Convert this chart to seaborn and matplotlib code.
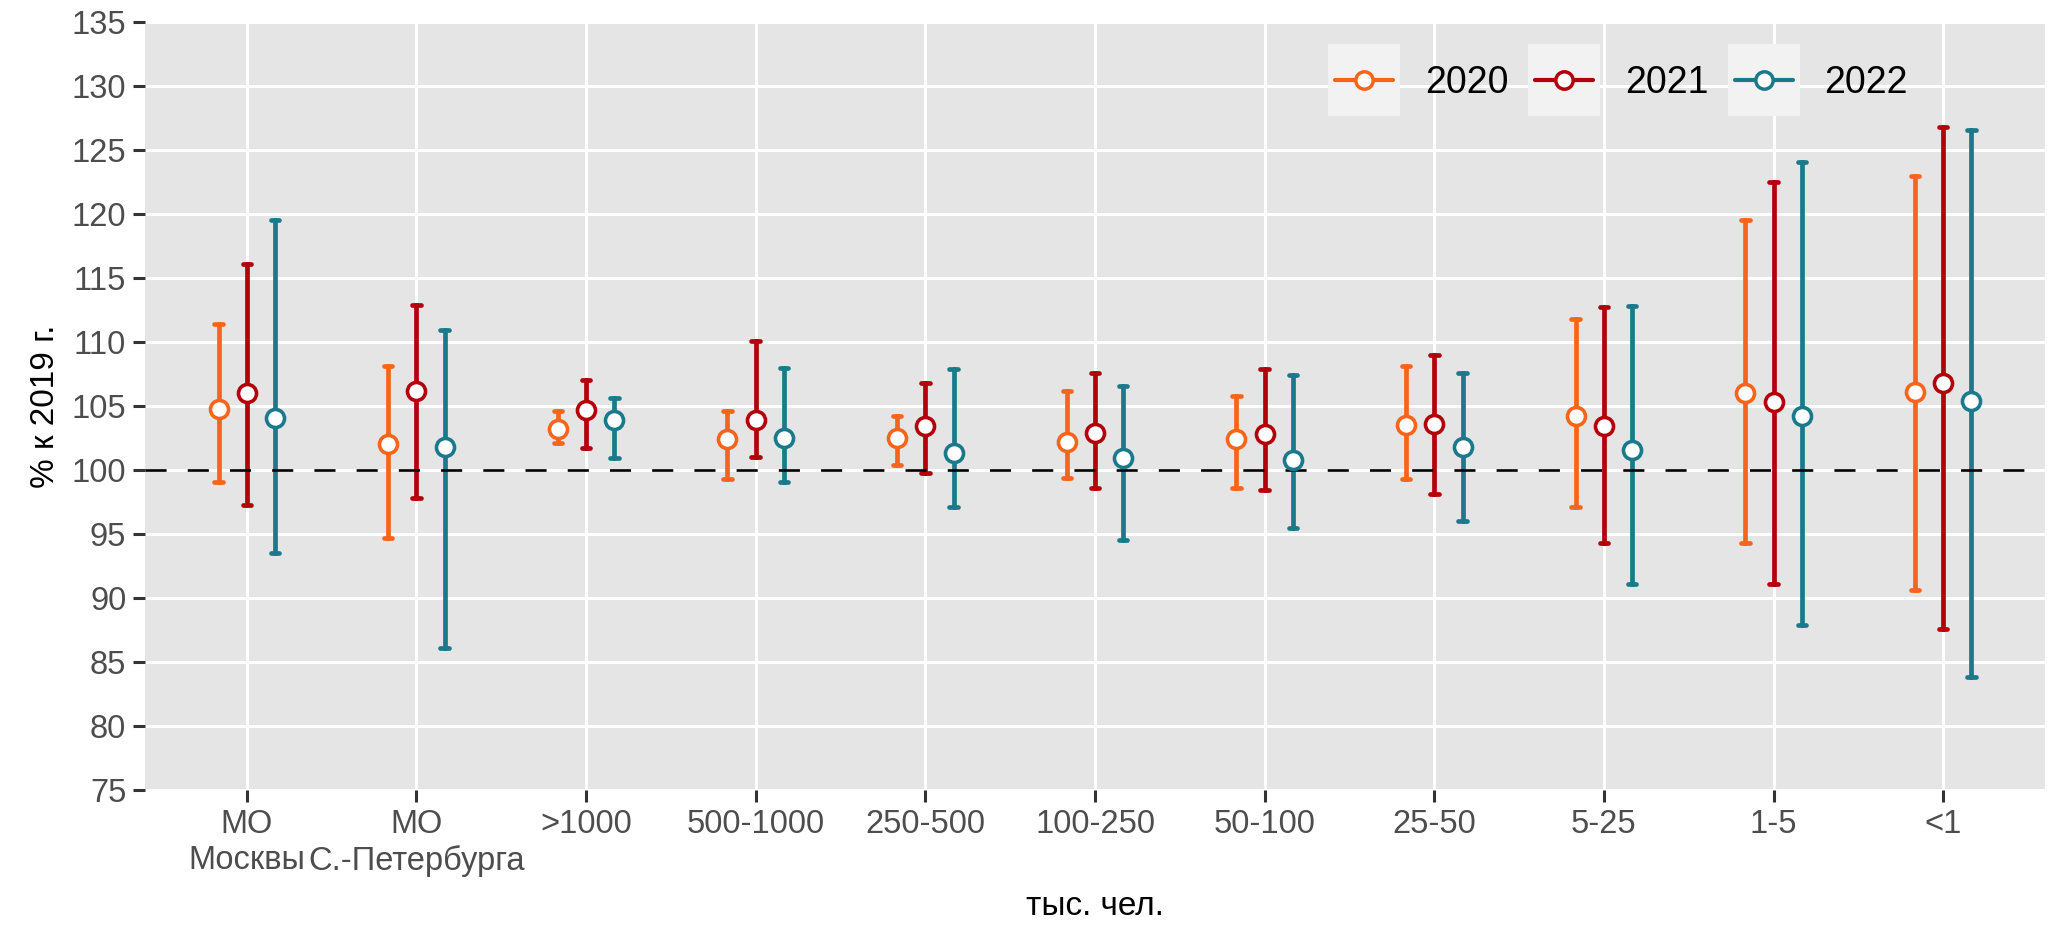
import numpy as np
import pandas as pd
import matplotlib
matplotlib.use("Agg")
import matplotlib.pyplot as plt
import seaborn as sns
from matplotlib.legend_handler import HandlerLine2D
from matplotlib.patches import Rectangle
from matplotlib.lines import Line2D

categories = ["МО\nМосквы", "МО\nС.-Петербурга", ">1000", "500-1000", "250-500",
              "100-250", "50-100", "25-50", "5-25", "1-5", "<1"]
years = ["2020", "2021", "2022"]

mid_2020 = [104.8, 102.0, 103.2, 102.4, 102.5, 102.2, 102.4, 103.5, 104.2, 106.0, 106.1]
lo_2020 = [99.1, 94.7, 102.1, 99.3, 100.4, 99.4, 98.6, 99.3, 97.1, 94.3, 90.6]
hi_2020 = [111.4, 108.1, 104.6, 104.6, 104.2, 106.2, 105.8, 108.1, 111.8, 119.5, 123.0]

mid_2021 = [106.0, 106.2, 104.7, 103.9, 103.4, 102.9, 102.8, 103.6, 103.4, 105.3, 106.8]
lo_2021 = [97.3, 97.8, 101.7, 101.0, 99.8, 98.6, 98.4, 98.1, 94.3, 91.1, 87.6]
hi_2021 = [116.1, 112.9, 107.0, 110.1, 106.8, 107.6, 107.9, 109.0, 112.7, 122.5, 126.8]

mid_2022 = [104.1, 101.8, 103.9, 102.5, 101.3, 100.9, 100.8, 101.8, 101.6, 104.2, 105.4]
lo_2022 = [93.5, 86.1, 100.9, 99.1, 97.1, 94.5, 95.5, 96.0, 91.1, 87.9, 83.8]
hi_2022 = [119.5, 110.9, 105.6, 108.0, 107.9, 106.6, 107.4, 107.6, 112.8, 124.1, 126.6]

y_ticks = list(range(75, 136, 5))
colors = ["#F8651A", "#B3000B", "#1A7A8B"]

series = {
    "2020": (lo_2020, mid_2020, hi_2020),
    "2021": (lo_2021, mid_2021, hi_2021),
    "2022": (lo_2022, mid_2022, hi_2022),
}
rows = []
for yr in years:
    lo, mid, hi = series[yr]
    for c, a, m, b in zip(categories, lo, mid, hi):
        for v in (a, m, b):
            rows.append({"cat": c, "year": yr, "value": v})
df = pd.DataFrame(rows)

sns.set_theme(style="darkgrid")
plt.rcParams["font.family"] = ["Liberation Sans", "DejaVu Sans"]
plt.rcParams["axes.facecolor"] = "#E5E5E5"

fig, ax = plt.subplots(figsize=(20.66, 9.44), dpi=100)
fig.subplots_adjust(left=145 / 2066, right=2045 / 2066, top=1 - 22 / 944, bottom=1 - 790 / 944)

sns.pointplot(data=df, x="cat", y="value", hue="year", order=categories,
              hue_order=years, palette=colors, estimator="median",
              errorbar=("pi", 100), dodge=0.333, linestyle="none", markers="o",
              capsize=0.05, err_kws={"linewidth": 3.4}, linewidth=3.4,
              markersize=13, markeredgewidth=2.6, legend=False, ax=ax)

for ln in ax.lines:
    mk = ln.get_marker()
    if mk not in (None, "None", "", " "):
        ln.set_markerfacecolor("white")
        ln.set_zorder(6)
    else:
        ln.set_linewidth(3.4)

ax.axhline(100, color="black", lw=1.9, dashes=(8, 8), zorder=4)

ax.set_ylim(75, 135)
ax.set_xlim(-0.6, 10.6)
ax.set_yticks(y_ticks)
ax.set_yticklabels([str(t) for t in y_ticks])
ax.grid(True, color="white", lw=2.2)
ax.set_axisbelow(True)
for s in ax.spines.values():
    s.set_visible(False)
ax.tick_params(axis="both", which="major", bottom=True, left=True, length=8.5,
               width=2.2, color="#333333", labelsize=23.5, labelcolor="#4D4D4D", pad=5)
for lab in ax.get_xticklabels():
    lab.set_multialignment("center")

ax.set_xlabel("тыс. чел.", fontsize=24, color="black", labelpad=10)
ax.set_ylabel("% к 2019 г.", fontsize=24, color="black", labelpad=8)


class BoxedHandler(HandlerLine2D):
    def create_artists(self, legend, orig_handle, xdescent, ydescent, width, height,
                       fontsize, trans):
        arts = super().create_artists(legend, orig_handle, xdescent, ydescent,
                                      width, height, fontsize, trans)
        pad = 5
        bh = 52
        cy = -ydescent + height / 2
        rect = Rectangle((-xdescent - pad, cy - bh / 2), width + 2 * pad, bh,
                         facecolor="#F2F2F2", edgecolor="none", transform=trans,
                         zorder=0)
        return [rect] + list(arts)


handles = [Line2D([], [], color=c, lw=3.0, marker="o", markersize=12.5,
                  markerfacecolor="white", markeredgewidth=2.5) for c in colors]
leg = fig.legend(handles, years, ncol=3, loc="center right",
                 bbox_to_anchor=(1908 / 2066, 1 - 83 / 944), frameon=False,
                 fontsize=27, handlelength=1.55, handletextpad=0.85,
                 columnspacing=0.7, borderpad=0, borderaxespad=0,
                 handler_map={Line2D: BoxedHandler()})
for t in leg.get_texts():
    t.set_color("black")

fig.savefig("out.png", dpi=100, facecolor="white")
